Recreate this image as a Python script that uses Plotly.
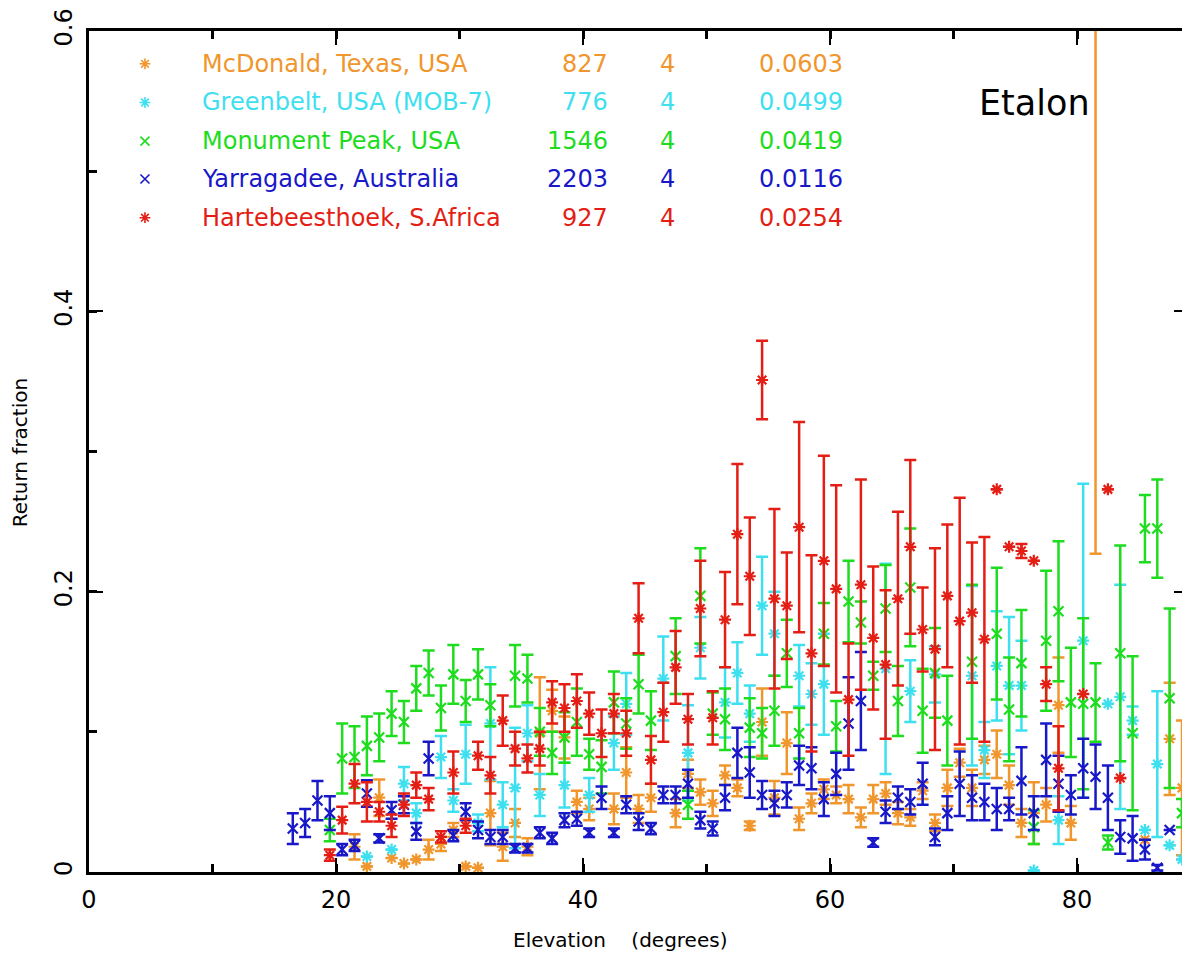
import plotly.graph_objects as go

# ---------------- data (elevation bin centres in degrees, return fraction, 1-sigma error) -------------
mcd_x = [21.5, 22.5, 23.5, 24.5, 25.5, 26.5, 27.5, 28.5, 29.5, 30.5, 31.5, 32.5, 33.5, 34.5, 35.5,
         36.5, 37.5, 38.5, 39.5, 40.5, 42.5, 43.5, 44.5, 45.5, 47.5, 48.5, 49.5, 50.5, 51.5, 52.5,
         53.5, 54.5, 55.5, 56.5, 57.5, 58.5, 59.5, 60.5, 61.5, 62.5, 63.5, 64.5, 65.5, 66.5, 67.5,
         68.5, 69.5, 70.5, 71.5, 72.5, 73.5, 74.5, 75.5, 76.5, 77.5, 78.5, 79.5, 81.5, 85.5, 87.5, 88.5]
mcd_y = [0.018, 0.004, 0.053, 0.010, 0.006, 0.009, 0.016, 0.020, 0.030, 0.004, 0.003, 0.042, 0.018, 0.035, 0.018,
         0.099, 0.115, 0.096, 0.050, 0.045, 0.045, 0.071, 0.045, 0.053, 0.042, 0.070, 0.057, 0.049, 0.069, 0.060,
         0.033, 0.107, 0.053, 0.092, 0.038, 0.049, 0.059, 0.055, 0.052, 0.039, 0.052, 0.056, 0.042, 0.039, 0.058,
         0.035, 0.060, 0.078, 0.060, 0.080, 0.084, 0.062, 0.035, 0.042, 0.048, 0.119, 0.035, 0.750, 0.023, 0.095, 0.060]
mcd_e = [0.009, None, 0.013, None, None, None, 0.007, 0.005, 0.005, None, None, 0.023, 0.010, 0.010, 0.006,
         0.040, 0.015, 0.015, 0.008, 0.008, 0.011, 0.018, 0.010, 0.010, 0.010, 0.010, 0.009, 0.009, 0.007, 0.006,
         0.003, 0.024, 0.012, 0.022, 0.008, 0.007, 0.007, 0.006, 0.010, 0.007, 0.010, 0.008, 0.008, 0.006, 0.006,
         0.006, 0.013, 0.010, 0.013, 0.010, 0.017, 0.014, 0.010, 0.022, 0.012, 0.034, 0.012, 0.523, None, 0.040, 0.048]

gsf_x = [22.5, 24.5, 25.5, 26.5, 28.5, 29.5, 30.5, 31.5, 32.5, 33.5, 34.5, 35.5, 36.5, 38.5, 40.5,
         42.5, 43.5, 46.5, 48.5, 49.5, 51.5, 52.5, 53.5, 54.5, 55.5, 57.5, 58.5, 59.5, 64.5, 66.5,
         68.5, 71.5, 72.5, 73.5, 74.5, 75.5, 76.5, 78.5, 80.5, 82.5, 83.5, 84.5, 85.5, 86.5, 87.5, 88.5]
gsf_y = [0.011, 0.016, 0.063, 0.042, 0.082, 0.051, 0.084, 0.035, 0.106, 0.048, 0.060, 0.099, 0.055, 0.062, 0.055,
         0.092, 0.120, 0.138, 0.085, 0.160, 0.121, 0.142, 0.113, 0.190, 0.170, 0.140, 0.127, 0.134, 0.145, 0.129,
         0.141, 0.140, 0.087, 0.147, 0.133, 0.133, 0.001, 0.037, 0.165, 0.120, 0.125, 0.108, 0.030, 0.077, 0.019, 0.009]
gsf_e = [None, None, 0.012, 0.007, 0.015, 0.008, 0.021, 0.006, 0.040, 0.016, 0.043, 0.020, 0.015, 0.016, 0.012,
         0.019, 0.022, 0.030, 0.034, 0.022, 0.025, 0.022, 0.020, 0.035, 0.030, 0.022, 0.022, 0.036, 0.075, 0.022,
         0.020, 0.064, 0.020, 0.039, 0.049, 0.032, None, 0.017, 0.112, None, 0.080, 0.010, None, 0.052, None, None]

mon_x = [19.5, 20.5, 21.5, 22.5, 23.5, 24.5, 25.5, 26.5, 27.5, 28.5, 29.5, 30.5, 31.5, 32.5, 34.5,
         35.5, 36.5, 37.5, 38.5, 39.5, 40.5, 41.5, 42.5, 43.5, 44.5, 45.5, 47.5, 48.5, 49.5, 50.5,
         51.5, 53.5, 54.5, 55.5, 56.5, 57.5, 59.5, 60.5, 61.5, 62.5, 63.5, 64.5, 65.5, 66.5, 67.5,
         68.5, 69.5, 71.5, 73.5, 74.5, 75.5, 76.5, 77.5, 78.5, 79.5, 80.5, 81.5, 82.5, 83.5, 84.5,
         85.5, 86.5, 87.5, 88.5]
mon_y = [0.030, 0.081, 0.082, 0.090, 0.096, 0.113, 0.107, 0.131, 0.142, 0.117, 0.141, 0.122, 0.141, 0.119, 0.140,
         0.138, 0.100, 0.085, 0.096, 0.107, 0.084, 0.075, 0.121, 0.106, 0.134, 0.108, 0.154, 0.048, 0.197, 0.113,
         0.109, 0.103, 0.099, 0.115, 0.156, 0.099, 0.170, 0.104, 0.193, 0.178, 0.140, 0.188, 0.122, 0.203, 0.115,
         0.142, 0.108, 0.150, 0.170, 0.116, 0.149, 0.032, 0.165, 0.186, 0.121, 0.120, 0.121, 0.021, 0.156, 0.099,
         0.245, 0.245, 0.124, 0.042]
mon_e = [0.008, 0.025, 0.022, 0.021, 0.017, 0.016, 0.015, 0.016, 0.016, 0.016, 0.021, 0.015, 0.018, 0.015, 0.022,
         0.017, 0.017, 0.015, 0.018, 0.024, 0.011, 0.019, 0.022, 0.018, 0.021, 0.021, 0.027, 0.010, 0.034, 0.015,
         0.022, 0.021, 0.018, 0.025, 0.024, 0.018, 0.022, 0.018, 0.029, 0.015, 0.010, 0.031, 0.025, 0.042, 0.030,
         0.032, 0.032, 0.055, 0.047, 0.037, 0.038, 0.012, 0.050, 0.050, 0.039, 0.061, 0.028, 0.005, 0.077, 0.055,
         0.024, 0.035, 0.064, 0.010]

yar_x = [16.5, 17.5, 18.5, 19.5, 20.5, 21.5, 22.5, 23.5, 24.5, 25.5, 26.5, 27.5, 29.5, 30.5, 31.5,
         32.5, 33.5, 34.5, 35.5, 36.5, 37.5, 38.5, 39.5, 40.5, 41.5, 42.5, 43.5, 44.5, 45.5, 46.5,
         47.5, 48.5, 49.5, 50.5, 51.5, 52.5, 53.5, 54.5, 55.5, 56.5, 57.5, 58.5, 59.5, 60.5, 61.5,
         62.5, 63.5, 64.5, 65.5, 66.5, 67.5, 68.5, 69.5, 70.5, 71.5, 72.5, 73.5, 74.5, 75.5, 76.5,
         77.5, 78.5, 79.5, 80.5, 81.5, 82.5, 83.5, 84.5, 85.5, 86.5, 87.5]
yar_y = [0.031, 0.035, 0.051, 0.042, 0.016, 0.019, 0.056, 0.024, 0.044, 0.048, 0.029, 0.081, 0.026, 0.043, 0.030,
         0.025, 0.025, 0.017, 0.017, 0.028, 0.024, 0.037, 0.038, 0.028, 0.053, 0.028, 0.048, 0.036, 0.031, 0.055,
         0.055, 0.063, 0.037, 0.031, 0.053, 0.085, 0.071, 0.055, 0.049, 0.055, 0.076, 0.074, 0.052, 0.070, 0.106,
         0.122, 0.021, 0.043, 0.053, 0.050, 0.063, 0.025, 0.042, 0.063, 0.053, 0.050, 0.045, 0.045, 0.065, 0.042,
         0.080, 0.063, 0.055, 0.074, 0.068, 0.053, 0.025, 0.024, 0.016, 0.003, 0.030]
yar_e = [0.011, 0.010, 0.014, 0.012, 0.004, 0.004, 0.0095, 0.003, 0.006, 0.006, 0.006, 0.012, 0.004, 0.006, 0.006,
         0.005, 0.005, 0.003, 0.003, 0.004, 0.004, 0.005, 0.005, 0.003, 0.008, 0.003, 0.006, 0.006, 0.004, 0.006,
         0.006, 0.010, 0.006, 0.005, 0.009, 0.018, 0.018, 0.010, 0.009, 0.009, 0.014, 0.015, 0.012, 0.015, 0.033,
         0.035, 0.003, 0.008, 0.008, 0.009, 0.015, 0.006, 0.012, 0.023, 0.016, 0.013, 0.015, 0.008, 0.024, 0.012,
         0.026, 0.020, 0.014, 0.021, 0.023, 0.023, 0.012, 0.016, 0.007, 0.002, None]

har_x = [19.5, 20.5, 21.5, 22.5, 23.5, 24.5, 25.5, 26.5, 27.5, 28.5, 29.5, 30.5, 31.5, 32.5, 33.5,
         34.5, 35.5, 36.5, 37.5, 38.5, 39.5, 40.5, 41.5, 42.5, 43.5, 44.5, 45.5, 46.5, 47.5, 48.5,
         49.5, 50.5, 51.5, 52.5, 53.5, 54.5, 55.5, 56.5, 57.5, 58.5, 59.5, 60.5, 61.5, 62.5, 63.5,
         64.5, 65.5, 66.5, 67.5, 68.5, 69.5, 70.5, 71.5, 72.5, 73.5, 74.5, 75.5, 76.5, 77.5, 78.5,
         80.5, 82.5, 83.5]
har_y = [0.012, 0.037, 0.063, 0.050, 0.043, 0.033, 0.048, 0.062, 0.052, 0.025, 0.071, 0.033, 0.083, 0.069, 0.108,
         0.088, 0.081, 0.088, 0.121, 0.117, 0.122, 0.113, 0.099, 0.113, 0.099, 0.181, 0.080, 0.114, 0.146, 0.109,
         0.188, 0.110, 0.180, 0.241, 0.211, 0.351, 0.195, 0.190, 0.246, 0.156, 0.222, 0.202, 0.123, 0.205, 0.167,
         0.148, 0.195, 0.232, 0.173, 0.159, 0.197, 0.179, 0.185, 0.166, 0.273, 0.232, 0.229, 0.222, 0.134, 0.074,
         0.127, 0.273, 0.067]
har_e = [0.004, 0.0095, 0.014, 0.014, 0.007, 0.008, 0.008, 0.009, 0.008, 0.004, 0.015, 0.005, 0.010, 0.013, 0.018,
         0.012, 0.010, 0.012, 0.015, 0.017, 0.019, 0.015, 0.017, 0.014, 0.016, 0.025, 0.017, 0.021, 0.026, 0.018,
         0.034, 0.019, 0.034, 0.050, 0.042, 0.028, 0.064, 0.038, 0.075, 0.070, 0.075, 0.074, 0.040, 0.075, 0.051,
         0.053, 0.062, 0.062, 0.030, 0.072, 0.051, 0.088, 0.050, 0.073, None, None, 0.005, None, 0.012, 0.030,
         None, None, None]

station_names = ["McDonald, Texas, USA", "Greenbelt, USA (MOB-7)", "Monument Peak, USA",
                 "Yarragadee, Australia", "Hartebeesthoek, S.Africa"]
station_npts = ["827", "776", "1546", "2203", "927"]
station_col2 = ["4", "4", "4", "4", "4"]
station_mean = ["0.0603", "0.0499", "0.0419", "0.0116", "0.0254"]

x_ticks = [0, 20, 40, 60, 80]
y_ticks = [0, 0.2, 0.4, 0.6]
y_tick_text = ["0", "0.2", "0.4", "0.6"]

# ---------------- styling ----------------
colors = ["#F0962C", "#3EE0F0", "#1EDC1E", "#1818C8", "#E41E14"]
symbols = ["asterisk-open", "asterisk-open", "x-thin-open", "x-thin-open", "asterisk-open"]
FONT = "DejaVu Sans"

series = [(mcd_x, mcd_y, mcd_e), (gsf_x, gsf_y, gsf_e), (mon_x, mon_y, mon_e),
          (yar_x, yar_y, yar_e), (har_x, har_y, har_e)]

fig = go.Figure()
for (xs, ys, es), c, s, n in zip(series, colors, symbols, station_names):
    fig.add_trace(go.Scatter(
        x=xs, y=ys, mode="markers", name=n, showlegend=False,
        marker=dict(symbol=s, size=10, color=c, line=dict(color=c, width=2.2)),
        error_y=dict(type="data", array=es, visible=True, color=c, thickness=2.5, width=6),
    ))

# legend symbols on a hidden overlay axis in plot-fraction units
leg_y = [0.961, 0.915, 0.869, 0.824, 0.778]
for i, (c, s) in enumerate(zip(colors, symbols)):
    fig.add_trace(go.Scatter(
        x=[0.0512], y=[leg_y[i]], xaxis="x2", yaxis="y3", mode="markers", showlegend=False,
        marker=dict(symbol=s, size=9, color=c, line=dict(color=c, width=1.6)), hoverinfo="skip"))

annotations = []
for i in range(5):
    c = colors[i]
    f = dict(family=FONT, size=24, color=c)
    annotations.append(dict(xref="paper", yref="paper", x=0.1016, y=leg_y[i], text=station_names[i],
                            showarrow=False, xanchor="left", yanchor="middle", font=f))
    annotations.append(dict(xref="paper", yref="paper", x=0.4767, y=leg_y[i], text=station_npts[i],
                            showarrow=False, xanchor="right", yanchor="middle", font=f))
    annotations.append(dict(xref="paper", yref="paper", x=0.5297, y=leg_y[i], text=station_col2[i],
                            showarrow=False, xanchor="center", yanchor="middle", font=f))
    annotations.append(dict(xref="paper", yref="paper", x=0.6917, y=leg_y[i], text=station_mean[i],
                            showarrow=False, xanchor="right", yanchor="middle", font=f))

annotations.append(dict(xref="paper", yref="paper", x=0.8655, y=0.914, text="Etalon", showarrow=False,
                        xanchor="center", yanchor="middle", font=dict(family=FONT, size=35, color="black")))
annotations.append(dict(xref="paper", yref="paper", x=0.4858, y=-0.0805,
                        text="Elevation\u00a0\u00a0\u00a0\u00a0(degrees)", showarrow=False,
                        xanchor="center", yanchor="middle", font=dict(family=FONT, size=20, color="black")))
annotations.append(dict(xref="paper", yref="paper", x=-0.0631, y=0.499, text="Return fraction",
                        showarrow=False, textangle=-90, xanchor="center", yanchor="middle",
                        font=dict(family=FONT, size=20, color="black")))

# page body has an 8px margin: figure sized so that it fits the window without scrollbars
fig.update_layout(
    width=1174, height=947,
    margin=dict(l=81, r=0, t=19, b=83),
    paper_bgcolor="white", plot_bgcolor="white",
    showlegend=False,
    annotations=annotations,
    xaxis=dict(range=[0, 88.5], tickvals=x_ticks, ticks="inside", ticklen=14, tickwidth=2,
               tickcolor="black", showline=True, linecolor="black", linewidth=3, mirror="ticks",
               showgrid=False, zeroline=False, ticklabelstandoff=4, ticklabeloverflow="allow",
               tickfont=dict(family=FONT, size=24, color="black"),
               minor=dict(dtick=10, tick0=0, ticks="inside", ticklen=8, tickwidth=2.5, tickcolor="black",
                          showgrid=False)),
    yaxis=dict(range=[0, 0.6], tickvals=y_ticks, ticktext=y_tick_text, ticks="inside", ticklen=14,
               tickwidth=2, tickcolor="black", showline=True, linecolor="black", linewidth=3,
               mirror=False, showgrid=False, zeroline=False, tickangle=-90, ticklabelstandoff=4,
               ticklabeloverflow="allow",
               tickfont=dict(family=FONT, size=24, color="black"),
               minor=dict(dtick=0.1, tick0=0, ticks="inside", ticklen=8, tickwidth=2.5, tickcolor="black",
                          showgrid=False)),
    yaxis2=dict(overlaying="y", side="right", range=[0, 0.6], tickvals=y_ticks, ticks="inside",
                ticklen=8, tickwidth=2, tickcolor="black", showticklabels=False, showline=False,
                showgrid=False, zeroline=False),
    xaxis2=dict(overlaying="x", range=[0, 1], visible=False, fixedrange=True),
    yaxis3=dict(overlaying="y", range=[0, 1], visible=False, fixedrange=True),
)
# invisible trace to activate yaxis2 (right-side ticks)
fig.add_trace(go.Scatter(x=[None], y=[None], yaxis="y2", showlegend=False, hoverinfo="skip"))

fig.write_html("out.html")
